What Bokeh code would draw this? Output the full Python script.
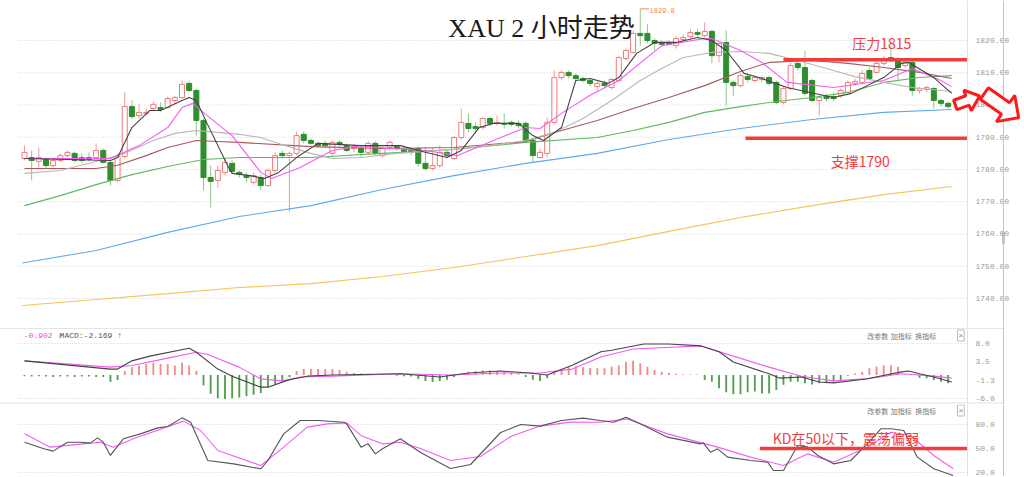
import numpy as np
from bokeh.plotting import figure
from bokeh.models import (Range1d, Span, Label, PolyAnnotation, ColumnDataSource)
from bokeh.layouts import column
from bokeh.embed import file_html
from bokeh.resources import INLINE
from bokeh.core.properties import value

# ---------------- data ----------------
opens = [1783.4,1783.7,1782.5,1783.4,1781.2,1782.8,1784.3,1785.0,1783.7,1783.7,
         1783.7,1785.9,1782.2,1776.6,1784.0,1799.5,1796.7,1797.4,1798.9,1799.2,
         1799.2,1801.4,1802.3,1806.7,1804.5,1795.2,1777.5,1776.6,1779.1,1781.9,
         1779.1,1778.1,1776.0,1777.5,1775.0,1779.7,1785.0,1784.3,1785.0,1790.9,
         1789.0,1788.1,1788.1,1785.0,1788.4,1787.4,1786.5,1786.5,1785.3,1788.1,
         1784.3,1786.8,1787.1,1786.2,1785.9,1786.5,1781.9,1780.3,1781.2,1785.3,
         1783.4,1789.9,1794.3,1793.3,1793.0,1795.8,1794.3,1794.3,1794.6,1794.3,
         1794.3,1789.0,1783.7,1785.0,1794.6,1808.5,1810.1,1809.1,1808.2,1807.6,
         1805.7,1806.7,1805.4,1807.6,1814.4,1816.3,1822.2,1822.2,1820.0,1819.4,
         1819.4,1818.4,1820.3,1821.2,1822.5,1821.5,1822.8,1815.3,1819.4,1807.0,
         1806.0,1808.8,1807.6,1807.9,1808.5,1807.0,1800.8,1805.1,1812.9,1811.6,
         1807.6,1801.4,1802.6,1802.6,1802.9,1803.9,1806.7,1807.0,1810.7,1810.1,
         1812.9,1814.7,1813.8,1812.2,1813.2,1804.5,1804.8,1805.1,1801.4,1800.5]
closes = [1785.3,1782.8,1783.7,1781.2,1782.8,1784.3,1785.3,1782.8,1782.8,1783.1,
          1785.9,1782.2,1776.6,1784.0,1799.5,1796.4,1797.7,1797.7,1800.2,1798.6,
          1802.0,1802.3,1806.4,1804.5,1795.2,1777.5,1776.3,1779.7,1782.2,1779.4,
          1778.5,1777.5,1778.1,1775.0,1779.7,1784.3,1784.3,1785.0,1790.5,1789.0,
          1788.1,1787.4,1787.4,1788.4,1787.8,1785.9,1787.1,1785.3,1788.1,1785.0,
          1786.5,1788.4,1786.5,1785.6,1785.3,1781.9,1780.3,1781.2,1785.3,1784.3,
          1789.9,1794.6,1792.7,1792.7,1795.8,1794.3,1794.6,1794.0,1794.0,1793.6,
          1789.0,1784.3,1785.3,1794.6,1808.5,1810.1,1809.1,1808.2,1807.6,1806.7,
          1806.7,1806.0,1807.9,1814.7,1816.9,1822.2,1821.5,1820.0,1819.1,1818.8,
          1818.8,1820.6,1820.9,1822.5,1821.9,1822.8,1815.3,1819.1,1807.0,1806.0,
          1809.1,1807.9,1808.5,1808.5,1806.7,1800.8,1805.1,1812.2,1811.6,1803.6,
          1801.4,1802.3,1802.0,1802.0,1804.5,1807.0,1807.3,1809.8,1808.2,1812.9,
          1814.4,1813.8,1811.6,1813.2,1804.5,1805.1,1805.4,1801.4,1800.5,1799.5]
highs = [1787.4,1785.9,1786.8,1783.7,1783.4,1785.0,1785.9,1785.6,1785.0,1785.3,
         1788.1,1786.5,1782.8,1785.0,1803.9,1801.4,1800.2,1798.9,1801.1,1800.8,
         1802.6,1802.9,1807.6,1807.6,1805.1,1795.8,1781.2,1781.2,1783.4,1782.8,
         1779.7,1779.1,1779.1,1778.5,1780.3,1785.3,1785.9,1785.6,1791.8,1791.8,
         1789.6,1788.7,1789.0,1789.0,1789.0,1788.1,1787.8,1787.1,1788.7,1788.7,
         1787.1,1789.0,1787.4,1786.8,1786.5,1787.1,1786.8,1786.8,1787.4,1785.9,
         1790.5,1798.9,1797.4,1794.6,1796.1,1796.4,1796.7,1797.4,1795.2,1795.2,
         1794.9,1789.3,1786.5,1796.1,1810.7,1810.7,1810.7,1809.8,1808.8,1808.2,
         1807.3,1807.6,1808.5,1815.3,1817.5,1823.1,1829.8,1825.0,1820.6,1820.0,
         1820.0,1821.5,1821.9,1823.7,1823.7,1825.6,1823.4,1819.4,1823.1,1807.6,
         1809.8,1809.8,1809.1,1809.1,1809.1,1807.6,1805.7,1813.2,1813.8,1816.9,
         1808.2,1802.9,1803.6,1803.9,1805.1,1807.6,1808.2,1810.7,1811.6,1813.8,
         1815.3,1818.4,1814.7,1814.4,1813.8,1805.7,1806.0,1805.7,1802.0,1801.1]
lows = [1782.8,1776.6,1780.6,1780.3,1780.6,1782.2,1783.7,1782.2,1781.9,1782.5,
        1783.4,1781.9,1775.0,1776.0,1783.4,1795.8,1795.8,1796.7,1798.3,1797.7,
        1798.9,1800.2,1802.0,1803.9,1790.5,1773.5,1768.2,1774.4,1778.1,1778.8,
        1777.5,1776.0,1775.3,1773.5,1774.7,1779.1,1783.4,1766.7,1784.3,1788.1,
        1787.4,1786.8,1786.8,1784.3,1787.1,1785.3,1785.3,1783.7,1784.7,1784.3,
        1783.7,1785.9,1785.9,1785.0,1784.3,1780.9,1779.7,1779.7,1780.6,1783.4,
        1782.8,1789.3,1791.5,1791.8,1792.4,1793.6,1793.6,1792.7,1793.3,1792.7,
        1788.4,1781.9,1783.4,1783.7,1794.0,1807.6,1808.2,1807.6,1807.0,1805.7,
        1804.5,1805.1,1804.8,1807.0,1813.8,1816.0,1818.4,1819.1,1816.9,1818.1,
        1818.4,1817.5,1819.7,1820.6,1821.2,1820.9,1812.9,1813.2,1799.8,1802.9,
        1805.4,1807.0,1807.0,1807.0,1806.0,1800.2,1800.2,1804.5,1810.7,1802.9,
        1800.8,1796.7,1801.1,1801.1,1802.3,1803.6,1806.0,1806.4,1807.6,1809.8,
        1812.2,1813.2,1807.6,1811.6,1802.9,1803.6,1803.9,1798.9,1799.5,1798.9]

ma5_x = [0,12,13,15,17.5,19,22,23,24,25.5,28.5,29,31.5,33.5,35.5,38,41,47,52.5,55,
         59,61,63.5,65.5,69,71,72.5,75,77,79,81.5,83,85.5,88,91,94,96,98,100.5,103,
         106.5,113,115.5,120,122.5,123.5,127,129.5]
ma5_y = [1783.4,1782.8,1783.7,1793.0,1798.3,1798.3,1801.4,1802.3,1801.4,1794.3,
         1780.6,1778.8,1778.1,1777.2,1779.1,1783.7,1788.1,1787.4,1787.4,1785.9,
         1783.7,1785.9,1793.0,1794.3,1794.3,1790.5,1789.0,1793.0,1807.6,1808.2,
         1806.7,1808.5,1816.0,1819.4,1819.4,1820.9,1820.0,1816.9,1809.8,1808.2,
         1805.4,1802.3,1803.6,1808.5,1812.9,1813.2,1808.5,1803.6]
ma10_x = [0,12,16,20,22,23.5,25.5,29,33,34.5,38.5,43,47,51,56,60.5,66.5,70,72,75,
          79,83,89,95,96,100,103,106.5,113,120,124,128,129.5]
ma10_y = [1783.4,1783.4,1787.4,1793.0,1799.2,1800.5,1796.7,1790.5,1779.1,1777.2,
          1780.6,1785.9,1787.4,1786.5,1785.9,1784.3,1789.9,1793.0,1792.7,1797.4,
          1803.0,1807.6,1818.4,1820.6,1820.6,1816.9,1813.2,1807.0,1805.4,1807.6,
          1811.3,1807.6,1805.7]
ma20_x = [0,5,10,14,18,21,24,27,30,33,36,40,43,47,52,58,65,70,74,78,82,86,89,92,96,
          100,104,108,112,116,120,124,129.5]
ma20_y = [1778.8,1779.7,1782.5,1785.0,1789.0,1791.2,1792.1,1791.5,1790.9,1789.9,
          1787.7,1785.0,1783.4,1783.7,1785.0,1785.9,1787.4,1789.0,1791.5,1795.8,
          1801.4,1807.6,1811.3,1814.7,1816.3,1816.6,1816.0,1813.8,1811.3,1808.8,
          1807.0,1805.4,1804.2]
ma30_x = [0,10,13,17,20,24,27,30,40,50,60,70,75,80,85,90,95,100,104,110,115,120,125,129.5]
ma30_y = [1780.3,1780.3,1781.3,1784.3,1786.8,1789.0,1788.7,1788.4,1787.1,1786.5,
          1786.8,1788.7,1792.1,1795.2,1798.9,1802.3,1806.0,1810.4,1813.2,1813.8,
          1812.9,1811.6,1810.1,1808.2]
ma60_x = [0,5,10,15,20,25,30,40,50,60,70,80,85,90,95,100,105,110,115,120,125,129.5]
ma60_y = [1768.8,1771.9,1775.3,1778.4,1780.9,1783.1,1783.7,1783.7,1785.0,1786.2,
          1788.4,1789.9,1792.1,1794.6,1797.7,1799.5,1801.1,1802.3,1803.9,1807.0,
          1808.5,1809.1]
ma120_x = [-0.3,10,20,30,40,50,60,70,80,90,100,110,120,129.5]
ma120_y = [1751.0,1754.9,1760.5,1765.4,1768.8,1773.8,1778.1,1781.9,1785.0,1789.3,
           1792.7,1795.5,1797.7,1798.6]
ma250_x = [-0.3,10,20,30,40,50,60,70,80,90,100,110,120,129.5]
ma250_y = [1737.8,1739.7,1741.5,1743.4,1744.6,1746.8,1749.6,1753.0,1756.4,1760.8,
           1765.1,1768.8,1772.2,1774.7]

macd_hist = [-0.3,-0.4,-0.3,-0.4,-0.5,-0.4,-0.4,-0.5,-0.4,-0.4,-0.5,-0.5,
             -1.8,-1.3,
             1.0,2.0,2.4,2.8,3.2,2.8,2.8,2.4,3.2,2.4,1.0,
             -2.7,-4.8,-5.9,-6.1,-5.9,-5.7,-5.4,-5.0,-4.6,-3.1,-2.3,-1.5,-0.6,
             1.0,1.5,1.6,1.5,1.5,1.5,1.3,0.8,0.5,0.4,0.3,0.2,0.1,
             0.0,-0.2,-0.3,-0.4,-1.0,-1.5,-1.8,-1.5,-1.2,-0.5,0.3,0.8,1.0,1.2,1.2,
             1.0,0.8,0.6,0.4,-0.5,-1.2,-1.5,-0.8,0.8,1.5,2.0,2.2,2.0,1.8,
             1.7,1.7,2.1,2.5,3.4,3.6,3.0,2.1,1.3,0.8,0.6,0.3,0.2,0.1,0.1,-1.3,-1.7,
             -3.4,-4.4,-4.9,-4.9,-4.4,-4.2,-4.7,-4.7,-3.8,-2.5,-1.7,-1.7,-2.1,-2.4,
             -2.1,-2.1,-1.7,-1.3,-0.2,0.4,0.8,1.7,2.1,2.5,2.5,2.1,0.2,0.1,-0.7,-0.8,
             -1.3,-1.7,-2.1]
dif_x = [0,12,13,15,17.5,23,24,27,29,33,34,36.5,37.5,39.5,43,52.5,58,62,66.5,70.5,
         73,76.5,80.5,82,86.5,90,94.5,97,99,104,105.5,108.5,111,113,117.5,122.5,
         123.5,125,127,129.5]
dif_y = [3.6,1.5,1.5,3.6,4.8,6.8,5.8,1.5,-0.3,-3.1,-3.1,-1.5,-1.0,-0.3,0.0,0.3,
         -0.5,0.5,1.0,0.5,0.0,2.5,5.9,6.3,7.9,7.9,7.4,5.9,3.3,0.3,-0.8,-0.5,-1.8,
         -2.0,-1.0,0.8,1.0,0.3,-0.5,-1.8]
dea_x = [0,12,15,20,24,25.5,30,33,36,38.5,43,52.5,59.5,66.5,72,76.5,80.5,85,94.5,
         99,104,108.5,113,117.5,122.5,127,129.5]
dea_y = [3.6,2.0,2.4,4.3,5.8,5.3,2.0,-1.0,-1.5,-0.5,-0.3,0.3,0.0,0.5,0.5,1.5,4.6,
         6.6,7.4,4.8,2.0,-0.3,-1.5,-1.0,0.3,-0.3,-0.8]

k_x = [0,2.7,4,6,7.8,9.2,10.2,11,12,13.8,16.2,18.6,20,22,23.2,25.6,29.2,33,34,36.2,
       38.5,41,44.6,45,47,48,49,50,52.5,55.3,59.5,62.3,66.5,69.3,72,75,78,80.4,82.3,
       84,86,89.8,94.4,94.8,95.8,96.8,98.2,101.4,103.8,104.6,106,108,109.4,110.8,
       113,115.4,117.7,119.6,121,122.8,124.7,127,129.7]
k_y = [57.9,49.6,46.7,57.9,57.9,56.7,63.3,57.9,41.3,62.1,68.3,75.8,77.5,88.3,82.9,
       35.0,30.8,24.6,35.0,68.3,85.0,85.0,82.9,80.8,51.7,55.8,43.3,49.6,62.1,45.0,
       25.0,30.0,70.0,80.0,78.0,85.0,88.0,85.0,82.9,89.2,80.8,64.2,55.8,57.0,45.4,
       49.6,39.2,35.0,32.9,22.5,22.5,53.8,51.7,41.3,30.8,35.0,55.8,74.6,74.6,72.5,
       39.2,24.6,16.3]
d_x = [0,3.6,8.2,10.6,12.4,15.2,22.2,24.6,27,33,36.2,39.5,42.3,45,47,50,52.5,55.3,
       59.5,63.7,67.9,72,76.3,80.4,84.2,89.8,96.8,101.4,106,109.4,113,117.7,121,
       123.7,127,129.7]
d_y = [68.3,51.7,55.8,57.9,51.7,62.1,84.2,72.5,47.5,28.8,51.7,76.7,80.8,82.0,66.0,
       55.8,57.9,50.0,35.0,40.0,65.0,78.0,83.0,82.9,87.0,68.3,51.7,39.2,28.8,43.3,
       32.9,51.7,70.4,66.3,41.3,24.6]

price_ticks = [1740, 1750, 1760, 1770, 1780, 1790, 1800, 1810, 1820]
price_labels = ["1740.00", "1750.00", "1760.00", "1770.00", "1780.00",
                "1790.00", "1800.00", "1810.00", "1820.00"]
macd_ticks = [-6.0, -1.3, 3.5, 8.0]
macd_labels = ["-6.0", "-1.3", "3.5", "8.0"]
kd_ticks = [20.0, 50.0, 80.0]
kd_labels = ["20.0", "50.0", "80.0"]

title_text = "XAU 2 小时走势"
resist_level, resist_text = 1814.0, "压力1815"
support_level, support_text = 1789.7, "支撑1790"
kd_level, kd_text = 50.0, "KD在50以下，震荡偏弱"
peak_text = "1829.8"
macd_label_a, macd_label_b = "-0.902 ↓", "MACD:-2.169 ↑"
menu_items = ["改参数", "加指标", "换指标"]

# ---------------- layout / styling ----------------
XR = (-3.352, 139.385)      # frame spans the full page width
FW = 1022
X_PLOT_END = 131.70         # right edge of the plotting area (axis separator)
X_BORDER = 136.73           # outer border of the axis strip
X_LABEL = 132.82            # where tick labels start
X_GRID0 = -0.84
RED = "#f23c3c"
MONO = "Liberation Mono"
CJK = "Noto Sans CJK SC"


def panel(h, y0, y1, ticks, labels, grid_ticks):
    p = figure(frame_width=FW, frame_height=h, x_range=Range1d(*XR),
               y_range=Range1d(y0, y1), output_backend="svg", toolbar_location=None,
               x_axis_location=None, y_axis_location=None,
               min_border_left=0, min_border_right=0, min_border_top=0,
               min_border_bottom=0)
    p.outline_line_color = None
    p.border_fill_color = "white"
    p.xgrid.visible = False
    p.ygrid.visible = False
    # dotted grid lines across the plotting area
    p.segment(x0=[X_GRID0] * len(grid_ticks), y0=grid_ticks,
              x1=[X_PLOT_END] * len(grid_ticks), y1=grid_ticks,
              line_color="#d2d2d2", line_dash="1 2", line_width=1)
    # axis strip separators
    p.add_layout(Span(location=X_PLOT_END, dimension="height",
                      line_color="#e2e2e2", line_width=1))
    p.add_layout(Span(location=X_BORDER, dimension="height",
                      line_color="#c4c4c4", line_width=1))
    # tick labels on the right scale
    p.text(x=[X_LABEL] * len(ticks), y=ticks, text=labels,
           text_font=value(MONO), text_font_size=value("8px"),
           text_color="#9a9a9a", text_baseline="middle", text_align="left")
    return p


main = panel(322, 1732.55, 1832.40, price_ticks, price_labels, price_ticks)

x = np.arange(len(opens))
o, c, h, l = map(np.array, (opens, closes, highs, lows))
inc = c >= o
dec = ~inc
s_inc = ColumnDataSource(dict(x=x[inc], top=c[inc], bot=o[inc], hi=h[inc], lo=l[inc]))
s_dec = ColumnDataSource(dict(x=x[dec], top=o[dec], bot=c[dec], hi=h[dec], lo=l[dec]))

main.segment('x', 'hi', 'x', 'lo', source=s_inc, line_color="#f29a9a", line_width=1)
main.segment('x', 'hi', 'x', 'lo', source=s_dec, line_color="#8cc88c", line_width=1)
main.vbar('x', 0.7, 'top', 'bot', source=s_inc, fill_color="white",
          line_color="#f07a7a", line_width=1)
main.vbar('x', 0.7, 'top', 'bot', source=s_dec, fill_color="#2f8f2f",
          line_color="#2f8f2f", line_width=1)

for xs, ys, col in [(ma250_x, ma250_y, "#f7c35a"), (ma120_x, ma120_y, "#5eaaf0"),
                    (ma60_x, ma60_y, "#62b862"), (ma30_x, ma30_y, "#a85a5a"),
                    (ma20_x, ma20_y, "#b8b8b8"), (ma10_x, ma10_y, "#f55cf5"),
                    (ma5_x, ma5_y, "#444444")]:
    main.line(xs, ys, line_color=col, line_width=1.1)

# scrollbar thumb on the outer border
main.segment(x0=[X_BORDER], y0=[1757.0], x1=[X_BORDER], y1=[1760.7],
             line_color="#8a8a8a", line_width=2)

# resistance / support
main.segment(x0=[106.0], y0=[resist_level], x1=[X_PLOT_END], y1=[resist_level],
             line_color=RED, line_width=3.5)
main.segment(x0=[100.7], y0=[support_level], x1=[X_PLOT_END], y1=[support_level],
             line_color=RED, line_width=3.5)
main.add_layout(Label(x=115.6, y=1819.1, text=resist_text, text_color=RED,
                      text_font=CJK, text_font_size="14px", text_baseline="middle"))
main.add_layout(Label(x=112.6, y=1782.5, text=support_text, text_color=RED,
                      text_font=CJK, text_font_size="14px", text_baseline="middle"))

# title
main.add_layout(Label(x=59.2, y=1823.7, text=title_text, text_color="#1a1a1a",
                      text_font="'Liberation Serif', 'Noto Sans CJK SC'",
                      text_font_size="26px", text_baseline="middle"))

# peak marker
peak_i = int(np.argmax(h))
main.segment(x0=[peak_i], y0=[h[peak_i]], x1=[peak_i + 1.2], y1=[h[peak_i]],
             line_color="#f08a55", line_width=1)
main.add_layout(Label(x=peak_i + 1.3, y=h[peak_i] - 0.6, text=peak_text,
                      text_color="#f08a55", text_font=MONO, text_font_size="7px",
                      text_baseline="middle"))

# hollow red arrows (shape in screen pixels around a data anchor)
ppx = FW / (XR[1] - XR[0])
ppy = 322 / (1832.40 - 1732.55)


def arrow(cx, cy, ang, tail, head_base, tip, shaft, head):
    a = np.deg2rad(ang)
    d = np.array([np.cos(a), np.sin(a)])
    n = np.array([-np.sin(a), np.cos(a)])
    local = [(-tail, -shaft), (head_base, -shaft), (head_base, -head), (tip, 0),
             (head_base, head), (head_base, shaft), (-tail, shaft)]
    xs, ys = [], []
    for u, v in local:
        px, py = u * d + v * n
        xs.append(cx + px / ppx)
        ys.append(cy - py / ppy)
    return xs, ys


for args in [(131.7, 1801.4, -20, 13, 0, 13, 5, 11),
             (136.45, 1799.8, 35, 21, 5, 21, 7, 16)]:
    ax_, ay_ = arrow(*args)
    main.add_layout(PolyAnnotation(xs=ax_, ys=ay_, fill_color="white", fill_alpha=1,
                                   line_color="#ff1a1a", line_alpha=1, line_width=3))

# ---------------- MACD ----------------
MACD_LO, MACD_HI = -7.51, 13.36
macd = panel(82, MACD_LO, MACD_HI, macd_ticks, macd_labels, [-6.0, 8.0])
mh = np.array(macd_hist)
pos = mh >= 0
macd.vbar(x[pos], 0.26, mh[pos], 0, fill_color="#f08a8a", line_color=None)
macd.vbar(x[~pos], 0.26, 0, mh[~pos], fill_color="#4f9f4f", line_color=None)
macd.line(dea_x, dea_y, line_color="#f55cf5", line_width=1.1)
macd.line(dif_x, dif_y, line_color="#444444", line_width=1.1)
# panel separators (top of MACD, top of KD)
macd.segment(x0=[XR[0], XR[0]], y0=[11.85, -7.12], x1=[X_BORDER, X_BORDER],
             y1=[11.85, -7.12], line_color="#e2e2e2", line_width=1)
macd.add_layout(Label(x=-0.1, y=10.05, text=macd_label_a, text_color="#ff33ff",
                      text_font=MONO, text_font_size="8px", text_baseline="middle"))
macd.add_layout(Label(x=4.9, y=10.05, text=macd_label_b, text_color="#555555",
                      text_font=MONO, text_font_size="8px", text_baseline="middle"))

# ---------------- KD ----------------
kd = panel(72, 15.0, 105.0, kd_ticks, kd_labels, [20.0, 80.0])
kd.line(d_x, d_y, line_color="#f55cf5", line_width=1.1)
kd.line(k_x, k_y, line_color="#555555", line_width=1.1)
kd.segment(x0=[102.7], y0=[kd_level], x1=[X_PLOT_END], y1=[kd_level],
           line_color=RED, line_width=3.5)
kd.add_layout(Label(x=104.5, y=63.5, text=kd_text, text_color=RED,
                    text_font=CJK, text_font_size="14px", text_baseline="middle"))

for fig, yv in [(macd, 10.05), (kd, 97.5)]:
    for xi, txt in zip([117.7, 121.0, 124.4], menu_items):
        fig.add_layout(Label(x=xi, y=yv, text=txt, text_color="#777777",
                             text_font=CJK, text_font_size="7px", text_baseline="middle"))
    fig.add_layout(Label(x=130.3, y=yv, text="×", text_color="#888888",
                         text_font=MONO, text_font_size="8px", text_baseline="middle",
                         border_line_color="#bbbbbb", padding=1))

layout = column(main, macd, kd, spacing=0)
open("out.html", "w").write(file_html(layout, INLINE))
